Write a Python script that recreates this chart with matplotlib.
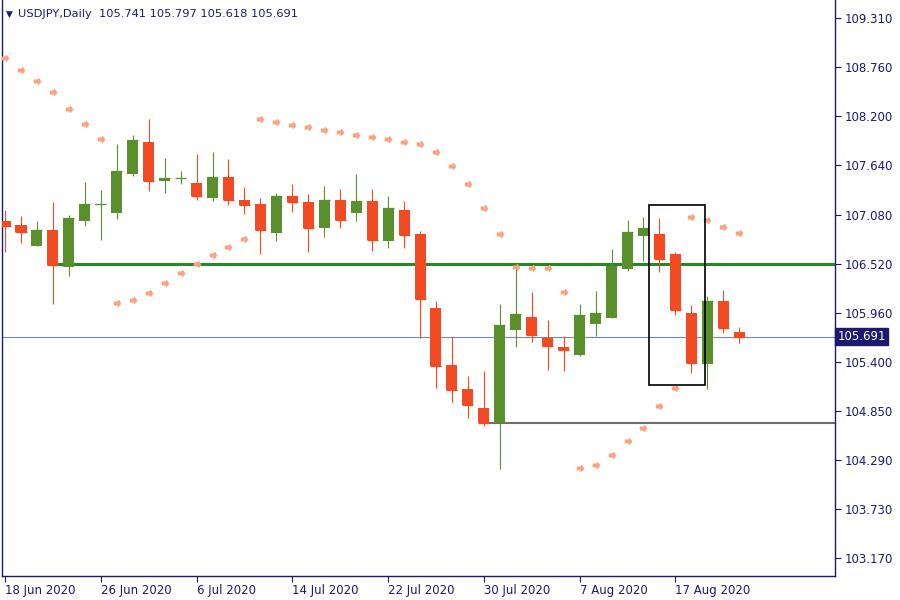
import numpy as np
import matplotlib
matplotlib.use("Agg")
import matplotlib.pyplot as plt
from matplotlib.patches import Rectangle
from matplotlib.path import Path

# daily USDJPY candles, 18 Jun 2020 .. 21 Aug 2020 (one entry per trading day)
opens = [107.006, 106.961, 106.725, 106.904, 106.486, 107.010, 107.190, 107.101, 107.544, 107.905,
         107.465, 107.490, 107.438, 107.271, 107.507, 107.245, 107.199, 106.873, 107.290, 107.222,
         106.930, 107.245, 107.101, 107.234, 106.782, 107.131, 106.858, 106.016, 105.368, 105.095,
         104.879, 104.712, 105.770, 105.914, 105.675, 105.573, 105.485, 105.838, 105.906, 106.464,
         106.839, 106.858, 106.631, 105.960, 105.383, 106.096, 105.741]
highs = [107.131, 107.063, 107.006, 107.222, 107.071, 107.450, 107.359, 107.882, 107.984, 108.166,
         107.723, 107.575, 107.768, 107.791, 107.711, 107.393, 107.268, 107.325, 107.427, 107.313,
         107.404, 107.370, 107.541, 107.370, 107.290, 107.234, 106.896, 106.096, 105.690, 105.243,
         105.300, 106.062, 106.494, 106.198, 105.880, 105.698, 106.062, 106.210, 106.688, 107.017,
         107.052, 107.040, 106.653, 106.051, 106.153, 106.221, 105.797]
lows = [106.657, 106.759, 106.720, 106.065, 106.384, 106.953, 106.793, 107.032, 107.521, 107.351,
        107.328, 107.430, 107.248, 107.237, 107.192, 107.089, 106.634, 106.782, 107.112, 106.657,
        106.828, 106.930, 107.010, 106.668, 106.702, 106.702, 105.679, 105.110, 104.951, 104.769,
        104.678, 104.189, 105.576, 105.633, 105.315, 105.303, 105.474, 105.701, 105.900, 106.441,
        106.555, 106.429, 105.940, 105.281, 105.099, 105.736, 105.618]
closes = [106.953, 106.884, 106.904, 106.509, 107.040, 107.199, 107.200, 107.575, 107.927, 107.465,
          107.495, 107.492, 107.294, 107.507, 107.248, 107.192, 106.907, 107.290, 107.226, 106.930,
          107.245, 107.021, 107.234, 106.793, 107.154, 106.850, 106.122, 105.360, 105.087, 104.917,
          104.712, 105.823, 105.948, 105.713, 105.588, 105.542, 105.937, 105.960, 106.494, 106.881,
          106.926, 106.577, 105.997, 105.394, 106.096, 105.792, 105.691]

# parabolic SAR values
sar = [108.857, 108.720, 108.595, 108.470, 108.277, 108.106, 107.935, 106.070, 106.104, 106.184,
       106.297, 106.411, 106.514, 106.616, 106.707, 106.798, 108.163, 108.129, 108.095, 108.072,
       108.038, 108.015, 107.981, 107.958, 107.935, 107.901, 107.879, 107.788, 107.628, 107.424,
       107.151, 106.855, 106.479, 106.468, 106.468, 106.195, 104.193, 104.227, 104.344, 104.504,
       104.651, 104.902, 105.103, 107.048, 107.014, 106.934, 106.866]

date_ticks = [0, 6, 12, 18, 24, 30, 36, 42]
date_labels = ["18 Jun 2020", "26 Jun 2020", "6 Jul 2020", "14 Jul 2020",
               "22 Jul 2020", "30 Jul 2020", "7 Aug 2020", "17 Aug 2020"]
price_ticks = [109.310, 108.760, 108.200, 107.640, 107.080, 106.520,
               105.960, 105.400, 104.850, 104.290, 103.730, 103.170]

resistance = 106.520   # green level, drawn from candle 3
support = 104.712      # grey level, drawn from candle 30
last_price = 105.691

up_col = "#5a8f2e"
down_col = "#f24b23"
navy = "#1c1a6e"

fig = plt.figure(figsize=(9, 6), dpi=100)
ax = fig.add_axes([2 / 900, 24 / 600, 833 / 900, 576 / 600])

x = np.arange(len(opens))
o = np.array(opens)
c = np.array(closes)
cols = [up_col if cc >= oo else down_col for oo, cc in zip(o, c)]

# levels behind the candles
ax.hlines(resistance, 3, 60, color="#228b22", lw=2.2, zorder=1)
ax.hlines(support, 30, 60, color="#6e6e6e", lw=1.5, zorder=1)
ax.axhline(last_price, color="#778899", lw=0.8, zorder=1)

w = 0.69
ax.vlines(x, lows, highs, colors=cols, lw=0.8, zorder=2)
ax.bar(x, np.abs(c - o), bottom=np.minimum(o, c), width=w, color=cols, zorder=3, linewidth=0)
# flat line for doji bodies
ax.hlines(c, x - w / 2, x + w / 2, colors=cols, lw=0.9, zorder=3)

# SAR arrows
verts = [(-1, -0.45), (0.3, -0.45), (0.3, -0.9), (1, 0), (0.3, 0.9), (0.3, 0.45), (-1, 0.45), (-1, -0.45)]
arrow = Path(verts, [Path.MOVETO] + [Path.LINETO] * 6 + [Path.CLOSEPOLY])
ax.plot(x, sar, linestyle="none", marker=arrow, markersize=4.4, color="#fca27e", zorder=4)

# highlight box
ax.add_patch(Rectangle((40.33, 105.135), 3.5, 107.19 - 105.135, fill=False,
                       edgecolor="black", lw=1.2, zorder=5))

ax.set_xlim(-0.19, 52.0)
ax.set_ylim(102.968, 109.52)

ax.yaxis.tick_right()
ax.set_yticks(price_ticks)
ax.set_yticklabels([f"{p:.3f}" for p in price_ticks])
ax.set_xticks(date_ticks)
ax.set_xticklabels(date_labels, ha="left")
ax.tick_params(axis="both", colors=navy, labelcolor=navy, labelsize=8.5, length=4, width=0.8)
ax.tick_params(axis="x", pad=2)
ax.tick_params(axis="y", pad=3)

for side in ["left", "right", "bottom"]:
    ax.spines[side].set_color(navy)
    ax.spines[side].set_linewidth(1.0)
ax.spines["top"].set_visible(False)

# current price tag on the axis
ax.text(1.003, last_price, f"{last_price:.3f}", transform=ax.get_yaxis_transform(),
        va="center", ha="left", color="white", fontsize=8.5,
        bbox=dict(boxstyle="square,pad=0.18", fc=navy, ec=navy))

fig.text(6 / 900, 1 - 14 / 600, "\u25bc", color=navy, fontsize=6.5, va="center", ha="left")
fig.text(18 / 900, 1 - 14 / 600, "USDJPY,Daily  105.741 105.797 105.618 105.691",
         color=navy, fontsize=8.2, va="center", ha="left")

fig.savefig("out.png", dpi=100)
